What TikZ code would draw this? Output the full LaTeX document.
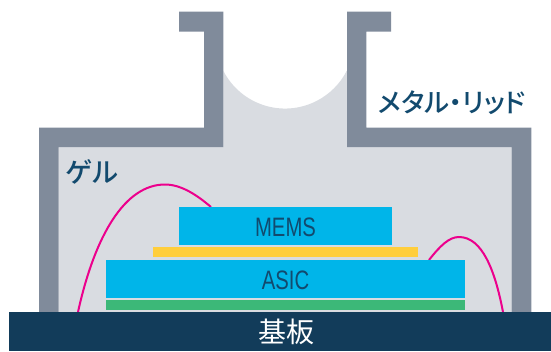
\documentclass[tikz,border=0pt]{standalone}
\usepackage{fontspec}
\setmainfont{Noto Sans CJK JP}
\newfontfamily\palfont[RawFeature=+palt]{Noto Sans CJK JP Medium}
\newfontfamily\narrowfont[FakeStretch=0.76]{Liberation Sans}
\definecolor{lidgray}{RGB}{128,139,155}
\definecolor{gelgray}{RGB}{217,220,225}
\definecolor{chipblue}{RGB}{0,181,233}
\definecolor{bondyellow}{RGB}{255,206,60}
\definecolor{bondgreen}{RGB}{60,184,120}
\definecolor{basenavy}{RGB}{18,60,90}
\definecolor{wirepink}{RGB}{236,0,140}
\definecolor{labelblue}{RGB}{18,74,110}
\tikzset{
  wirepath/.style={draw=wirepink,line width=1.5pt},
  chiplabel/.style={inner sep=0pt,text=labelblue,font=\narrowfont\fontsize{20}{20}\selectfont},
  lidlabel/.style={inner sep=0pt,text=labelblue},
}
\begin{document}
\begin{tikzpicture}[x=0.75pt,y=0.75pt,yscale=-1,xscale=1]
\useasboundingbox (0,0) rectangle (551,351);

%Gel
\fill [gelgray] (58.5,147) -- (223.3,147) -- (223.3,70.7) arc [start angle=153,end angle=27,radius=69.3] -- (347,147) -- (511.7,147) -- (511.7,312) -- (58.5,312) -- cycle ;
%Metal lid, left half
\fill [lidgray] (179,11.5) -- (223.3,11.5) -- (223.3,147) -- (58.5,147) -- (58.5,312) -- (39,312) -- (39,127.5) -- (204,127.5) -- (204,31.5) -- (179,31.5) -- cycle ;
%Metal lid, right half
\fill [lidgray] (391,11.5) -- (347,11.5) -- (347,147) -- (511.7,147) -- (511.7,312) -- (531.3,312) -- (531.3,127.5) -- (366.3,127.5) -- (366.3,31.5) -- (391,31.5) -- cycle ;

%Wire ends
\coordinate (wireLa) at (78,312);
\coordinate (wireLb) at (211,207);
\coordinate (wireRa) at (429,260);
\coordinate (wireRb) at (503,312);
%Bonding wires
\draw [wirepath] (wireLa) .. controls (95,235) and (125,184.5) .. (165,184.5) .. controls (182,184.5) and (198,196) .. (wireLb) ;
\draw [wirepath] (wireRa) .. controls (440,246) and (449,237) .. (459,237) .. controls (482,237) and (495,270) .. (wireRb) ;

%Stack
\fill [chipblue] (179,207) rectangle (392,245) ;
\fill [bondyellow] (153,247) rectangle (418,257) ;
\fill [chipblue] (106,260) rectangle (465,298) ;
\fill [bondgreen] (106,300) rectangle (465,310) ;
%Substrate
\fill [basenavy] (9,312) rectangle (551,351) ;

% Text Node
\node (mems) [chiplabel] at (285.5,227) {MEMS};
% Text Node
\node (asic) [chiplabel] at (285.5,280) {ASIC};
% Text Node
\node (kiban) [inner sep=0pt,text=white,font=\fontsize{21}{21}\selectfont] at (286,332) {基板};
% Text Node
\node (gel) [lidlabel,font=\palfont\fontsize{20.5}{20.5}\selectfont] at (92,172) {ゲル};
% Text Node
\node (lid) [lidlabel,font=\palfont\fontsize{19.8}{19.8}\selectfont] at (452,103) {メタル・リッド};

\end{tikzpicture}
\end{document}
